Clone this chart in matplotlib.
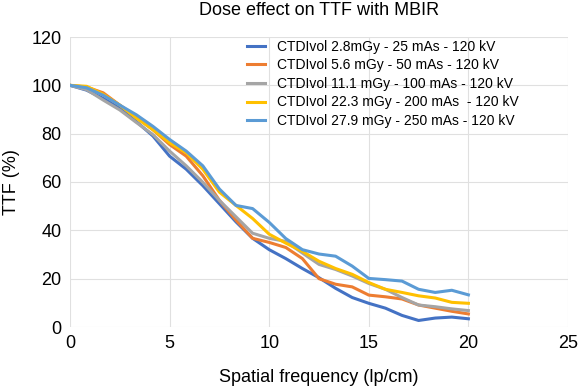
import numpy as np
import matplotlib
matplotlib.use('Agg')
import matplotlib.pyplot as plt

plt.rcParams['font.family'] = ['Liberation Sans', 'DejaVu Sans']

# spatial frequency samples (lp/cm), 25 points from 0 to 20
freq = np.linspace(0, 20, 25)

labels = [
    'CTDIvol 2.8mGy - 25 mAs - 120 kV',
    'CTDIvol 5.6 mGy - 50 mAs - 120 kV',
    'CTDIvol 11.1 mGy - 100 mAs - 120 kV',
    'CTDIvol 22.3 mGy - 200 mAs  - 120 kV',
    'CTDIvol 27.9 mGy - 250 mAs - 120 kV',
]

ttf_2_8 = [100, 98, 94.6, 90.5, 85, 79, 70.7, 65.3, 58.5, 51, 43.5, 36.7, 32,
           28.3, 24.2, 20.4, 16, 12.2, 9.8, 7.8, 4.8, 2.7, 3.7, 4.1, 3.4]
ttf_5_6 = [100, 99.3, 96.9, 91.8, 87, 81.6, 75.5, 70.7, 62.6, 52.4, 44.2, 36.7, 35,
           32.9, 28.3, 20, 17.7, 16.6, 13.2, 12.5, 11.6, 9.1, 7.8, 6.5, 5.4]
ttf_11_1 = [100, 98.2, 93.9, 89.8, 84.6, 79.6, 72.8, 66.7, 59.9, 52.4, 45.6, 38.8, 36.7,
            35.4, 30.6, 25.9, 23.8, 21.1, 18, 15.6, 12.2, 9.1, 8.4, 7.5, 6.8]
ttf_22_3 = [100, 99.6, 96.3, 91.8, 86.4, 81.6, 76.2, 72.1, 65.3, 55.8, 50.3, 44.9, 38.4,
            34.7, 31.3, 27.2, 24.2, 21.8, 18.4, 15.6, 14.3, 12.9, 12, 10.2, 9.8]
ttf_27_9 = [100, 99, 95.9, 91.8, 87.8, 83, 77.6, 72.8, 66.7, 57.1, 50.3, 49, 43.3,
            36.6, 32, 30.2, 29.3, 25.2, 20.1, 19.6, 19, 15.6, 14.3, 15.2, 13.3]

series = [ttf_2_8, ttf_5_6, ttf_11_1, ttf_22_3, ttf_27_9]
colors = ['#4472C4', '#ED7D31', '#A5A5A5', '#FFC000', '#5B9BD5']

fig = plt.figure(figsize=(5.81, 3.89), dpi=100)
ax = fig.add_axes([70 / 581, 62 / 389, 498 / 581, 290 / 389])

for vals, lab, col in zip(series, labels, colors):
    ax.plot(freq, vals, color=col, lw=2.2, label=lab)

ax.set_xlim(0, 25)
ax.set_ylim(0, 120)
ax.set_xticks(range(0, 26, 5))
ax.set_yticks(range(0, 121, 20))
ax.grid(True, color='#E0E0E0', lw=0.8)
ax.set_axisbelow(True)
for s in ax.spines.values():
    s.set_visible(False)
ax.tick_params(length=0, labelsize=13, pad=6)

ax.set_title('Dose effect on TTF with MBIR', fontsize=13, pad=16)
ax.set_xlabel('Spatial frequency (lp/cm)', fontsize=13, labelpad=12)
ax.set_ylabel('TTF (%)', fontsize=13, labelpad=8)

ax.legend(loc='upper left', bbox_to_anchor=(0.345, 1.01), frameon=False,
          fontsize=10, handlelength=1.3, handletextpad=0.8, labelspacing=0.33,
          borderaxespad=0)

fig.savefig('out.png', dpi=100)
